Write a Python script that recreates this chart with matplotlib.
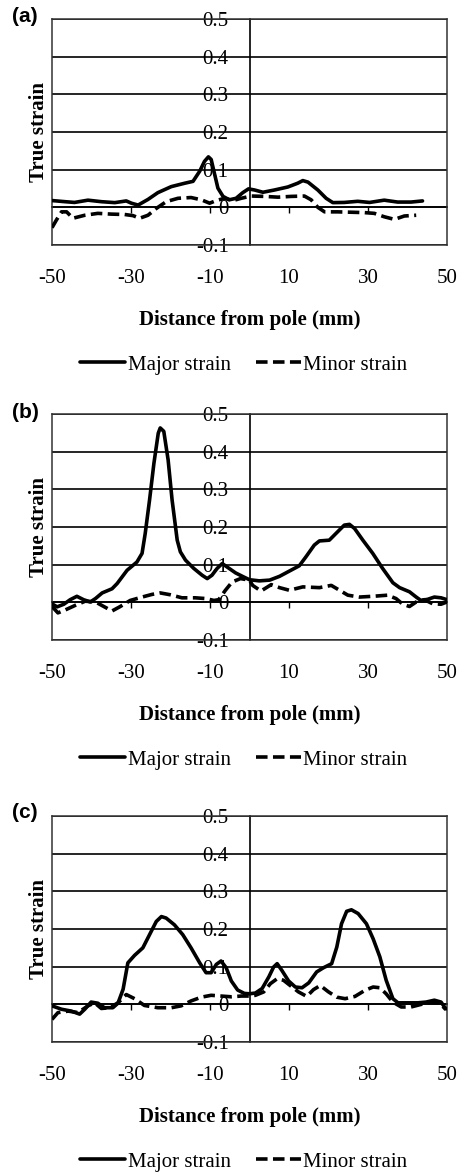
import matplotlib
matplotlib.use("Agg")
import matplotlib.pyplot as plt

# ---------------- data: distance from pole (mm) and true strain ----------------
# Panel (a)
a_major_x = [-50, -46.7, -44.3, -40.9, -37.5, -34.1, -31.2, -29.9, -28.2, -25.7, -23.2, -19.8,
             -16.4, -14.3, -12.6, -11.4, -10.4, -9.7, -8.9, -8.0, -6.7, -5.1, -3.4, -1.7, -0.25,
             1.3, 3.4, 6.3, 9.7, 12.2, 13.5, 14.8, 17.3, 19.4, 21.1, 24.0, 27.4, 30.4, 34.1,
             37.5, 40.9, 43.8]
a_major_y = [0.018, 0.015, 0.013, 0.019, 0.015, 0.0125, 0.017, 0.011, 0.006, 0.021, 0.039, 0.055,
             0.064, 0.069, 0.096, 0.122, 0.134, 0.127, 0.091, 0.051, 0.029, 0.020, 0.024, 0.039,
             0.049, 0.046, 0.040, 0.046, 0.054, 0.064, 0.071, 0.067, 0.046, 0.024, 0.0125, 0.013,
             0.016, 0.013, 0.019, 0.014, 0.014, 0.017]
a_minor_x = [-50, -48.9, -47.6, -46.3, -44.7, -41.7, -38.4, -35.0, -31.6, -29.5, -27.8, -25.7,
             -23.6, -21.1, -18.1, -14.8, -12.2, -10.1, -8.4, -6.3, -4.2, -2.1, 0.4, 3.8, 7.2,
             10.5, 13.9, 15.6, 17.3, 19.0, 22.3, 25.7, 29.1, 31.6, 34.1, 36.7, 39.2, 42.2]
a_minor_y = [-0.054, -0.034, -0.012, -0.012, -0.029, -0.021, -0.016, -0.018, -0.019, -0.022,
             -0.029, -0.021, -0.003, 0.015, 0.024, 0.026, 0.020, 0.011, 0.018, 0.024, 0.018,
             0.024, 0.030, 0.029, 0.027, 0.029, 0.030, 0.020, 0.0, -0.012, -0.012, -0.013,
             -0.014, -0.016, -0.025, -0.032, -0.023, -0.021]

# Panel (b)
b_major_x = [-50, -48.7, -47.0, -45.4, -43.7, -42.0, -40.3, -39.0, -37.3, -34.8, -33.5, -31.0,
             -28.5, -27.2, -26.4, -25.3, -24.2, -23.1, -22.6, -21.7, -20.6, -19.6, -18.3, -17.5,
             -16.2, -14.1, -12.0, -10.7, -9.5, -8.2, -6.9, -5.7, -3.5, -1.4, 0.0, 2.5, 5.1, 7.6,
             10.1, 12.6, 14.3, 16.4, 17.7, 20.2, 21.9, 24.0, 25.3, 26.6, 28.7, 31.2, 33.7, 36.3,
             38.0, 40.5, 42.2, 43.4, 45.1, 46.8, 48.5, 50]
b_major_y = [-0.004, -0.012, -0.005, 0.007, 0.016, 0.007, 0.001, 0.010, 0.025, 0.036, 0.050,
             0.085, 0.107, 0.130, 0.183, 0.272, 0.369, 0.449, 0.463, 0.454, 0.378, 0.272, 0.165,
             0.134, 0.112, 0.090, 0.072, 0.063, 0.072, 0.090, 0.103, 0.094, 0.078, 0.067, 0.060,
             0.057, 0.059, 0.069, 0.083, 0.097, 0.121, 0.152, 0.163, 0.165, 0.183, 0.205, 0.207,
             0.196, 0.165, 0.130, 0.090, 0.052, 0.039, 0.028, 0.014, 0.005, 0.008, 0.014, 0.012,
             0.007]
b_minor_x = [-50, -48.5, -46.6, -44.1, -41.6, -39.0, -36.9, -34.8, -32.7, -30.2, -27.2, -24.7,
             -22.6, -20.0, -17.1, -13.7, -11.1, -9.0, -7.8, -6.1, -4.4, -2.3, 0.0, 0.8, 2.9,
             5.5, 7.6, 10.1, 13.5, 17.7, 20.7, 22.8, 24.9, 27.8, 31.2, 35.0, 37.1, 38.8, 40.5,
             42.2, 44.3, 46.4, 48.5, 50]
b_minor_y = [-0.011, -0.028, -0.020, -0.008, 0.003, 0.001, -0.011, -0.023, -0.011, 0.005,
             0.014, 0.021, 0.025, 0.020, 0.012, 0.012, 0.010, 0.005, 0.007, 0.032, 0.054, 0.063,
             0.059, 0.045, 0.030, 0.047, 0.039, 0.032, 0.041, 0.039, 0.045, 0.032, 0.019, 0.014,
             0.016, 0.019, 0.010, -0.005, -0.011, 0.001, 0.007, -0.004, -0.005, 0.001]

# Panel (c)
c_major_x = [-50, -47.6, -45.1, -43.0, -41.7, -40.1, -38.4, -36.7, -34.6, -33.3, -32.0, -30.8,
             -29.1, -27.0, -25.3, -23.6, -22.3, -21.1, -19.0, -16.9, -14.8, -12.6, -11.0, -9.7,
             -8.4, -7.2, -5.9, -4.6, -3.0, -1.3, 0.0, 1.5, 3.2, 4.9, 6.1, 7.0, 8.2, 9.9, 11.6,
             13.3, 15.0, 17.0, 18.7, 20.8, 22.1, 23.3, 24.6, 25.8, 27.5, 29.6, 31.3, 33.0, 34.6,
             36.3, 37.6, 40.1, 42.6, 44.7, 46.8, 48.5, 49.7]
c_major_y = [-0.004, -0.013, -0.018, -0.026, -0.013, 0.006, 0.003, -0.009, -0.009, 0.003, 0.040,
             0.110, 0.130, 0.150, 0.185, 0.220, 0.233, 0.229, 0.211, 0.185, 0.150, 0.110, 0.084,
             0.084, 0.106, 0.115, 0.097, 0.062, 0.038, 0.029, 0.028, 0.030, 0.042, 0.073, 0.099,
             0.108, 0.090, 0.062, 0.046, 0.044, 0.057, 0.086, 0.097, 0.108, 0.152, 0.214, 0.247,
             0.251, 0.241, 0.214, 0.174, 0.126, 0.064, 0.015, 0.004, 0.004, 0.004, 0.006, 0.011,
             0.006, -0.012]
c_minor_x = [-50, -48.5, -45.9, -43.4, -40.9, -39.2, -37.5, -35.4, -33.3, -31.2, -29.1, -26.6,
             -23.2, -19.8, -17.3, -14.8, -12.2, -9.7, -7.2, -4.6, -2.1, 0.0, 1.5, 3.6, 5.3, 7.0,
             8.6, 10.3, 12.4, 14.5, 16.2, 17.9, 20.0, 22.1, 24.2, 26.7, 29.2, 31.3, 33.0, 34.6,
             36.3, 38.4, 40.9, 43.5, 46.0, 48.1, 49.7]
c_minor_y = [-0.040, -0.022, -0.018, -0.022, -0.004, 0.004, -0.011, -0.009, 0.004, 0.026, 0.015,
             -0.003, -0.009, -0.009, -0.004, 0.009, 0.019, 0.024, 0.022, 0.020, 0.022, 0.022,
             0.024, 0.033, 0.055, 0.068, 0.064, 0.050, 0.033, 0.021, 0.039, 0.050, 0.033, 0.019,
             0.015, 0.021, 0.037, 0.046, 0.044, 0.028, 0.006, -0.007, -0.007, 0.000, 0.006,
             0.004, -0.014]

panel_tags = ["(a)", "(b)", "(c)"]
x_tick_values = [-50, -30, -10, 10, 30, 50]
zero_tick_values = [-30, -10, 10, 30]
y_tick_values = [-0.1, 0, 0.1, 0.2, 0.3, 0.4, 0.5]
y_tick_labels = ["-0.1", "0", "0.1", "0.2", "0.3", "0.4", "0.5"]
series_names = ["Major strain", "Minor strain"]

panels = [
    (a_major_x, a_major_y, a_minor_x, a_minor_y),
    (b_major_x, b_major_y, b_minor_x, b_minor_y),
    (c_major_x, c_major_y, c_minor_x, c_minor_y),
]

# ---------------- figure layout ----------------
W, H = 461, 1173
fig = plt.figure(figsize=(W / 100, H / 100), dpi=100)
plt.rcParams["font.family"] = ["Liberation Serif", "DejaVu Serif"]

ax_left, ax_w, ax_h = 52, 395, 226
ax_tops = [19, 414, 816]
tag_y = [17, 413, 812]

serif = ["Liberation Serif", "DejaVu Serif"]
FS = 15
LW = 2.6

for i, (mx, my, nx, ny) in enumerate(panels):
    top = ax_tops[i]
    ax = fig.add_axes([ax_left / W, 1 - (top + ax_h) / H, ax_w / W, ax_h / H])
    ax.set_xlim(-50, 50)
    ax.set_ylim(-0.1, 0.5)

    # horizontal gridlines
    ax.set_yticks(y_tick_values)
    ax.yaxis.grid(True, color="black", linewidth=1.2)
    ax.tick_params(axis="y", length=0, labelleft=False)
    ax.set_axisbelow(True)

    # labels along the bottom edge
    ax.set_xticks(x_tick_values)
    ax.set_xticklabels([str(v) for v in x_tick_values], fontsize=FS, family=serif)
    ax.tick_params(axis="x", length=0, pad=17)

    for sp in ax.spines.values():
        sp.set_color("#333333")
        sp.set_linewidth(1.1)

    # horizontal axis crossing at zero strain with downward ticks
    zx = ax.secondary_xaxis(1 / 6)
    zx.set_xticks(zero_tick_values)
    zx.tick_params(axis="x", direction="out", length=4.5, width=1.0,
                   labelbottom=False, labeltop=False, color="black")
    zx.spines["bottom"].set_linewidth(1.2)
    zx.spines["bottom"].set_color("black")

    # vertical axis crossing at the pole, carrying the strain labels
    zy = ax.secondary_yaxis(0.5)
    zy.set_yticks(y_tick_values)
    zy.set_yticklabels(y_tick_labels, fontsize=FS, family=serif)
    zy.yaxis.set_ticks_position("left")
    zy.yaxis.set_label_position("left")
    zy.tick_params(axis="y", length=0, pad=15, labelleft=True, labelright=False)
    for sp in zy.spines.values():
        sp.set_linewidth(1.2)
        sp.set_color("black")

    ax.plot(mx, my, color="black", linewidth=LW, solid_joinstyle="round",
            solid_capstyle="round", label=series_names[0], zorder=3)
    ax.plot(nx, ny, color="black", linewidth=LW, linestyle=(0, (3.2, 1.5)),
            dash_capstyle="butt", label=series_names[1], zorder=3)

    ax.set_xlabel("Distance from pole (mm)", fontsize=FS, fontweight="bold",
                  family=serif, labelpad=16)
    ax.set_ylabel("True strain", fontsize=15, fontweight="bold", family=serif,
                  labelpad=2)

    ax.legend(loc="center", bbox_to_anchor=(0.485, -0.53), ncol=2, frameon=False,
              handlelength=2.2, handletextpad=0.1, columnspacing=1.2,
              prop={"family": serif, "size": FS})

    fig.text(12 / W, 1 - tag_y[i] / H, panel_tags[i], fontsize=15, fontweight="bold",
             family=["Liberation Sans", "DejaVu Sans"], ha="left", va="center")

fig.savefig("out.png", dpi=100)
